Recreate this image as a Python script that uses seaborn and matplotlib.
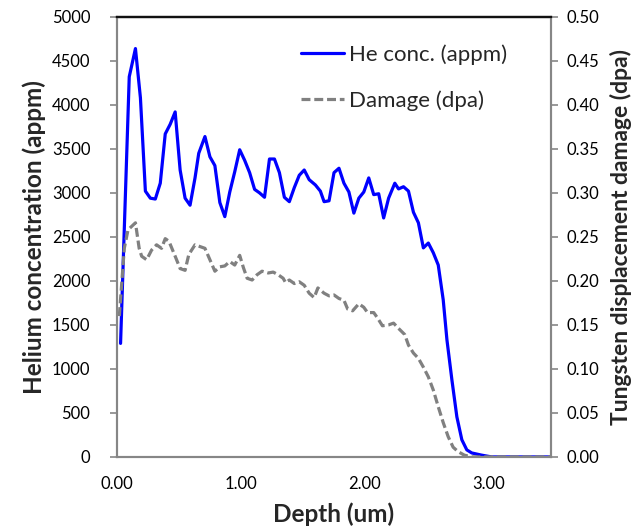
import matplotlib
matplotlib.use("Agg")
import matplotlib.pyplot as plt
import seaborn as sns

# He concentration profile (appm) vs depth (um)
he_depth = [0.03, 0.10, 0.15, 0.19, 0.23, 0.27, 0.31, 0.35, 0.39, 0.43, 0.47, 0.51,
            0.55, 0.59, 0.63, 0.66, 0.71, 0.75, 0.79, 0.83, 0.87, 0.91, 0.95, 0.99,
            1.03, 1.07, 1.11, 1.15, 1.19, 1.23, 1.27, 1.31, 1.35, 1.39, 1.43, 1.47,
            1.51, 1.55, 1.60, 1.64, 1.67, 1.71, 1.75, 1.79, 1.83, 1.87, 1.91, 1.95,
            1.99, 2.03, 2.07, 2.11, 2.15, 2.19, 2.24, 2.27, 2.31, 2.35, 2.39, 2.43,
            2.47, 2.51, 2.55, 2.59, 2.63, 2.66, 2.70, 2.74, 2.78, 2.82, 2.86, 2.94,
            3.02, 3.50]
he_conc = [1290, 4320, 4640, 4080, 3020, 2940, 2930, 3110, 3670, 3780, 3920, 3260,
           2940, 2860, 3170, 3450, 3640, 3410, 3310, 2890, 2730, 3010, 3240, 3490,
           3370, 3230, 3040, 3000, 2950, 3385, 3385, 3230, 2950, 2900, 3060, 3200,
           3260, 3150, 3090, 3020, 2900, 2910, 3230, 3280, 3110, 3010, 2770, 2940,
           3010, 3170, 2980, 2990, 2715, 2940, 3110, 3045, 3070, 3020, 2780, 2660,
           2375, 2430, 2320, 2180, 1785, 1330, 875, 455, 195, 80, 45, 20,
           0, 0]

# Displacement damage (dpa) vs depth (um)
dmg_depth = [0.02, 0.06, 0.09, 0.12, 0.15, 0.18, 0.20, 0.24, 0.28, 0.32, 0.36, 0.39,
             0.42, 0.47, 0.51, 0.55, 0.58, 0.63, 0.67, 0.71, 0.75, 0.79, 0.83, 0.87,
             0.91, 0.95, 0.99, 1.02, 1.05, 1.09, 1.13, 1.17, 1.22, 1.26, 1.30, 1.34,
             1.36, 1.39, 1.43, 1.47, 1.51, 1.55, 1.59, 1.62, 1.67, 1.71, 1.75, 1.79,
             1.83, 1.86, 1.90, 1.95, 1.99, 2.02, 2.07, 2.10, 2.14, 2.19, 2.23, 2.27,
             2.32, 2.35, 2.39, 2.43, 2.47, 2.51, 2.55, 2.59, 2.63, 2.67, 2.71, 2.75,
             2.80, 2.86, 3.50]
dmg_dpa = [0.160, 0.237, 0.258, 0.262, 0.266, 0.237, 0.228, 0.224, 0.235, 0.241, 0.237, 0.248,
           0.245, 0.228, 0.214, 0.212, 0.230, 0.241, 0.239, 0.237, 0.224, 0.211, 0.216, 0.217,
           0.222, 0.218, 0.229, 0.215, 0.203, 0.201, 0.207, 0.211, 0.209, 0.210, 0.207, 0.203,
           0.198, 0.201, 0.197, 0.199, 0.195, 0.186, 0.181, 0.192, 0.186, 0.183, 0.184, 0.180,
           0.178, 0.168, 0.166, 0.174, 0.170, 0.164, 0.164, 0.158, 0.149, 0.150, 0.152, 0.146,
           0.139, 0.127, 0.118, 0.112, 0.102, 0.091, 0.076, 0.057, 0.039, 0.023, 0.011, 0.006,
           0.002, 0.0, 0.0]

x_ticks = [0, 1, 2, 3]
left_ticks = list(range(0, 5001, 500))
right_ticks = [i * 0.05 for i in range(11)]

sns.set_style("white")
plt.rcParams["font.family"] = ["Lato", "DejaVu Sans"]

fig = plt.figure(figsize=(6.35, 5.27), dpi=100)
ax = fig.add_axes([0.184, 0.133, 0.684, 0.835])
ax2 = ax.twinx()

sns.lineplot(x=he_depth, y=he_conc, ax=ax, color="#0000ff", linewidth=2.3,
             label="He conc. (appm)", legend=False)
sns.lineplot(x=dmg_depth, y=dmg_dpa, ax=ax2, color="#808080", linewidth=2.3,
             linestyle=(0, (2.8, 1.2)), label="Damage (dpa)", legend=False)

ax.set_xlim(0, 3.5)
ax.set_ylim(0, 5000)
ax2.set_ylim(0, 0.5)
ax.set_xticks(x_ticks)
ax.set_xticklabels([f"{v:.2f}" for v in x_ticks])
ax.set_yticks(left_ticks)
ax2.set_yticks(right_ticks)
ax2.set_yticklabels([f"{v:.2f}" for v in right_ticks])

for a in (ax, ax2):
    for side in ("left", "right", "bottom"):
        a.spines[side].set_color("#868686")
        a.spines[side].set_linewidth(1.5)
    a.spines["top"].set_color("#111111")
    a.spines["top"].set_linewidth(1.6)
    a.tick_params(colors="#868686", labelcolor="black", labelsize=12, length=5, width=1.2)
ax.tick_params(axis="x", direction="inout", length=8, pad=10)
ax.tick_params(axis="y", direction="out", pad=14)
ax2.tick_params(axis="y", direction="out", pad=6)

ax.set_xlabel("Depth (um)", fontsize=17.5, fontweight="bold", labelpad=7)
ax.set_ylabel("Helium concentration (appm)", fontsize=17.5, fontweight="bold", labelpad=4)
ax2.set_ylabel("Tungsten displacement damage (dpa)", fontsize=16.5, fontweight="bold", labelpad=8)
ax.grid(False)
ax2.grid(False)

h1, l1 = ax.get_legend_handles_labels()
h2, l2 = ax2.get_legend_handles_labels()
ax2.legend(h1 + h2, l1 + l2, loc="upper left", bbox_to_anchor=(0.424, 0.937),
           frameon=False, fontsize=16, handlelength=1.95, labelspacing=1.13,
           handletextpad=0.2, borderpad=0, borderaxespad=0)

fig.savefig("out.png", dpi=100)
